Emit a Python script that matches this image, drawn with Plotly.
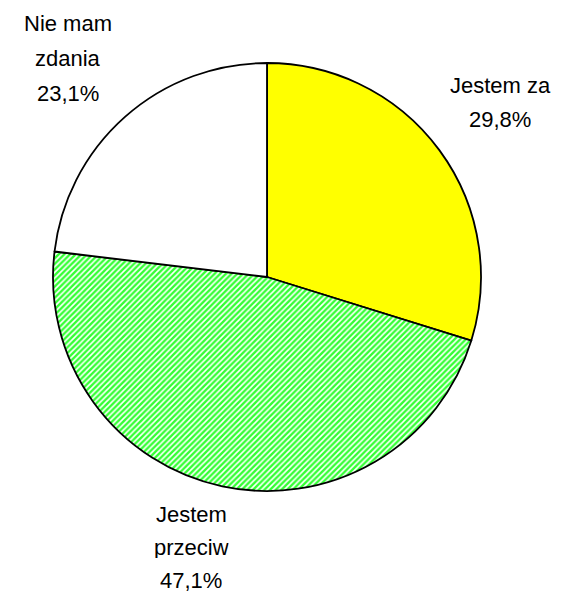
import plotly.graph_objects as go

labels = ["Jestem za", "Jestem przeciw", "Nie mam zdania"]
values = [29.8, 47.1, 23.1]
label_lines = [["Jestem za", "29,8%"], ["Jestem", "przeciw", "47,1%"], ["Nie mam", "zdania", "23,1%"]]
colors = ["#ffff00", "#33ff33", "#ffffff"]

# the page body has an 8px margin, so the figure starts at (8, 8) in the window
OX, OY = 8, 8
W, H = 565 - OX, 595 - OY
cx, cy, r = 267, 277, 214  # pie centre and radius in window pixels

def px(x):
    return (x - OX) / W

def py(y):
    return 1 - (y - OY) / H

fig = go.Figure(go.Pie(
    labels=labels, values=values, sort=False, direction="clockwise", rotation=0,
    textinfo="none", hoverinfo="label+percent",
    marker=dict(colors=colors, line=dict(color="black", width=1.8),
                pattern=dict(shape=["", "/", ""], fgcolor="white", bgcolor=colors, size=4, solidity=0.4)),
    domain=dict(x=[px(cx - r), px(cx + r)], y=[py(cy + r), py(cy - r)]),
    showlegend=False,
))

# label positions (window pixels): centre x, first line y, line spacing
pos = [(500, 84.5, 34.5), (191, 514, 33), (68, 23, 35)]
ann = []
for lines, (x, y0, dy) in zip(label_lines, pos):
    for i, t in enumerate(lines):
        ann.append(dict(x=px(x), y=py(y0 + i * dy), xref="paper", yref="paper",
                        text=t, showarrow=False, xanchor="center", yanchor="middle",
                        height=22, valign="middle",
                        font=dict(family="Liberation Sans, Arial", size=22, color="black")))

fig.update_layout(width=W, height=H, margin=dict(l=0, r=0, t=0, b=0),
                  paper_bgcolor="white", plot_bgcolor="white", annotations=ann)
fig.write_html("out.html")
